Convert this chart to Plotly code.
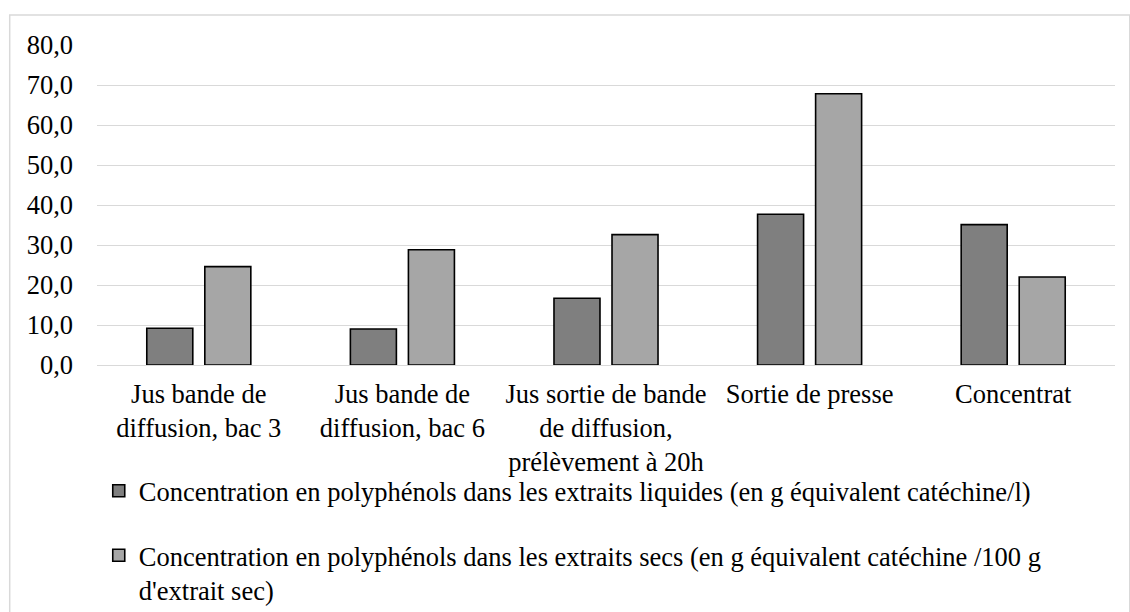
import plotly.graph_objects as go

# Sampling points along the sugar beet process
categories = [
    "Jus bande de<br>diffusion, bac 3",
    "Jus bande de<br>diffusion, bac 6",
    "Jus sortie de bande<br>de diffusion,<br>prélèvement à 20h",
    "Sortie de presse",
    "Concentrat",
]

# Polyphenol concentrations
liquid_extracts = [9.2, 9.0, 16.7, 37.7, 35.1]   # g catechin eq. / l
dry_extracts = [24.6, 28.8, 32.6, 67.8, 22.0]    # g catechin eq. / 100 g dry extract

series_names = [
    "Concentration en polyphénols dans les extraits liquides (en g équivalent catéchine/l)",
    "Concentration en polyphénols dans les extraits secs (en g équivalent catéchine /100 g<br>d'extrait sec)",
]

y_ticks = [0, 10, 20, 30, 40, 50, 60, 70, 80]

FONT = "Liberation Serif"
FS = 26.5
GRID = "#d9d9d9"

fig = go.Figure()
fig.add_trace(go.Bar(
    x=categories, y=liquid_extracts, name=series_names[0],
    legendgroup="liq",
    marker=dict(color="#7f7f7f", line=dict(color="#000000", width=1.6)),
))
fig.add_trace(go.Bar(
    x=categories, y=dry_extracts, name=series_names[1],
    legendgroup="dry",
    marker=dict(color="#a6a6a6", line=dict(color="#000000", width=1.6)),
))

W, H = 1130, 612
left, right, top, bottom = 97.25, 1130 - 1114.75, 45, 612 - 365
pw = W - left - right
ph = H - top - bottom

def px_x(x):
    return (x - left) / pw

def px_y(y):
    return (H - bottom - y) / ph

fig.update_layout(
    width=W, height=H,
    margin=dict(l=left, r=right, t=top, b=bottom, autoexpand=False),
    paper_bgcolor="white", plot_bgcolor="white",
    font=dict(family=FONT, size=FS, color="#000000"),
    separators=", ",
    barmode="group",
    bargap=0.43,
    bargroupgap=0.207,
    showlegend=True,
    legend=dict(
        orientation="v",
        x=px_x(99), xanchor="left",
        y=px_y(467), yanchor="top",
        valign="top",
        tracegroupgap=27,
        font=dict(family=FONT, size=FS, color="#000000"),
        bgcolor="rgba(0,0,0,0)",
    ),
    xaxis=dict(
        showgrid=False, showline=False, zeroline=False,
        tickfont=dict(family=FONT, size=FS, color="#000000"),
        ticks="",
        ticklabelstandoff=10,
    ),
    yaxis=dict(
        range=[0, 80], tickvals=y_ticks, tickformat=".1f",
        showgrid=True, gridcolor=GRID, gridwidth=1.3,
        zeroline=True, zerolinecolor=GRID, zerolinewidth=1.3,
        showline=False, ticks="",
        ticklabelstandoff=23,
        tickfont=dict(family=FONT, size=FS, color="#000000"),
    ),
    shapes=[dict(
        type="rect", xref="paper", yref="paper",
        x0=px_x(10), x1=px_x(1129.5), y0=px_y(630), y1=px_y(15),
        line=dict(color=GRID, width=1.5), fillcolor="rgba(0,0,0,0)",
        layer="below",
    )],
)

fig.write_html("out.html")
